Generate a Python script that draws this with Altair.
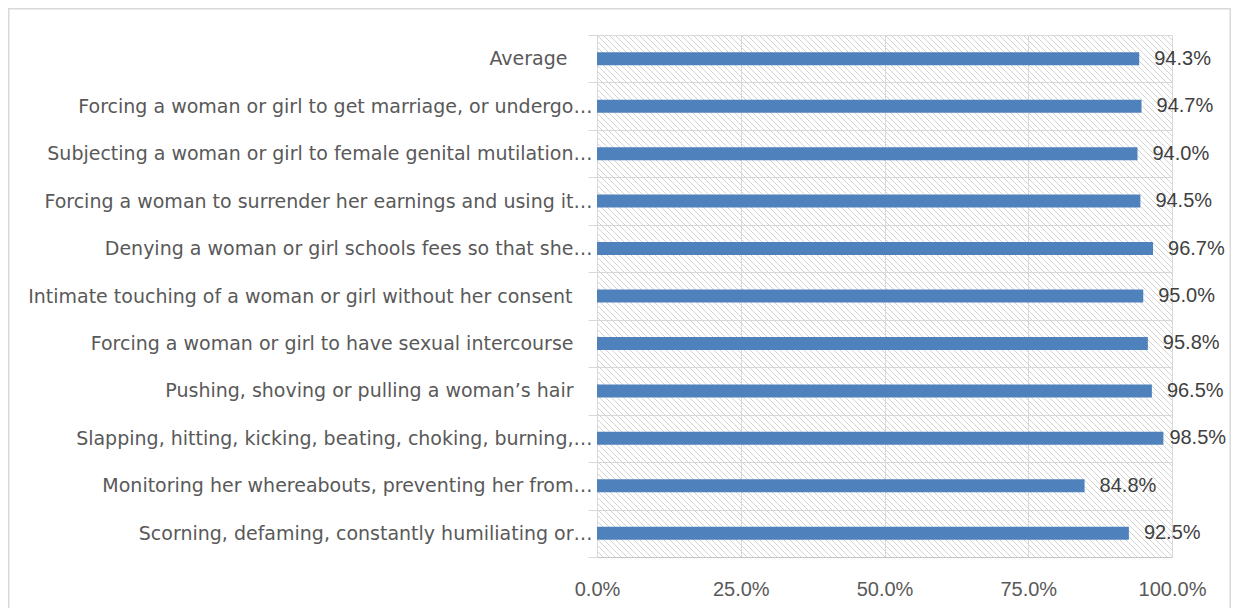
import altair as alt
import pandas as pd
import numpy as np

categories = [
    "Average",
    "Forcing a woman or girl to get marriage, or undergo…",
    "Subjecting a woman or girl to female genital mutilation…",
    "Forcing a woman to surrender her earnings and using it…",
    "Denying a woman or girl schools fees so that she…",
    "Intimate touching of a woman or girl without her consent",
    "Forcing a woman or girl to have sexual intercourse",
    "Pushing, shoving or pulling a woman’s hair",
    "Slapping, hitting, kicking, beating, choking, burning,…",
    "Monitoring her whereabouts, preventing her from…",
    "Scorning, defaming, constantly humiliating or…",
]
values = [0.943, 0.947, 0.940, 0.945, 0.967, 0.950, 0.958, 0.965, 0.985, 0.848, 0.925]
x_ticks = [0, 0.25, 0.5, 0.75, 1.0]

W, H = 575, 522
CAT_FONT = "DejaVu Sans"
NUM_FONT = "Liberation Sans"

df = pd.DataFrame({"cat": categories, "val": values})

# decorative hatch texture for the plot background
ks = np.arange(-H, W, 6)
hatch_df = pd.DataFrame({"x0": ks, "x1": ks + H, "y0": H, "y1": 0})

hatch = alt.Chart(hatch_df).mark_rule(color="#d3d3d3", strokeWidth=1, clip=True).encode(
    x=alt.X("x0:Q", scale=alt.Scale(domain=[0, W], nice=False, zero=False), axis=None),
    x2="x1:Q",
    y=alt.Y("y0:Q", scale=alt.Scale(domain=[0, H], nice=False), axis=None),
    y2="y1:Q",
)

border = alt.Chart(pd.DataFrame({"a": [0]})).mark_rect(
    fill="transparent", stroke="#d9d9d9", strokeWidth=2
).encode(
    x=alt.value(-588.5), x2=alt.value(W + 58.5),
    y=alt.value(-26.5), y2=alt.value(H + 80),
)

yscale = alt.Scale(domain=categories, paddingInner=0, paddingOuter=0)
xscale = alt.Scale(domain=[0, 1], nice=False)

label_pad = {
    "condition": [
        {"test": "datum.value === 'Average'", "value": 21},
        {"test": "datum.value === 'Intimate touching of a woman or girl without her consent'", "value": 16},
        {"test": "datum.value === 'Forcing a woman or girl to have sexual intercourse'", "value": 15},
        {"test": "datum.value === 'Pushing, shoving or pulling a woman’s hair'", "value": 15},
    ],
    "value": -4,
}

bars = alt.Chart(df).mark_bar(color="#4f81bd", size=13).encode(
    x=alt.X("val:Q", scale=xscale, title=None,
            axis=alt.Axis(values=x_ticks, format=".1%", ticks=False, grid=True,
                          gridColor="#d9d9d9", domainColor="#c6c6c6", labelFlush=False,
                          labelPadding=22, labelFont=NUM_FONT, labelFontSize=20,
                          labelColor="#595959")),
    y=alt.Y("cat:N", sort=categories, scale=yscale, title=None,
            axis=alt.Axis(tickBand="extent", ticks=True, tickSize=9, tickColor="#d9d9d9",
                          grid=True, gridColor="#d9d9d9", domain=False,
                          labelPadding=label_pad, labelFont=CAT_FONT, labelFontSize=19,
                          labelColor="#595959", labelLimit=0)),
)

def value_labels(dx, test):
    return alt.Chart(df).transform_filter(test).mark_text(
        align="left", dx=dx, font=NUM_FONT, fontSize=20, color="#404040"
    ).encode(
        x=alt.X("val:Q", scale=xscale, axis=None),
        y=alt.Y("cat:N", sort=categories, scale=yscale, axis=None),
        text=alt.Text("val:Q", format=".1%"),
    )

texts_main = value_labels(15, "datum.val < 0.98")
texts_edge = value_labels(6, "datum.val >= 0.98")

chart = alt.layer(border, hatch, bars, texts_main, texts_edge).resolve_scale(
    x="independent", y="independent"
).properties(
    width=W, height=H,
    autosize=alt.AutoSizeParams(type="none"),
    padding={"left": 589, "top": 27, "right": 59, "bottom": 51},
).configure_view(stroke=None).configure(background="white")

chart.save("out.html", embed_options={"renderer": "svg", "actions": False})
